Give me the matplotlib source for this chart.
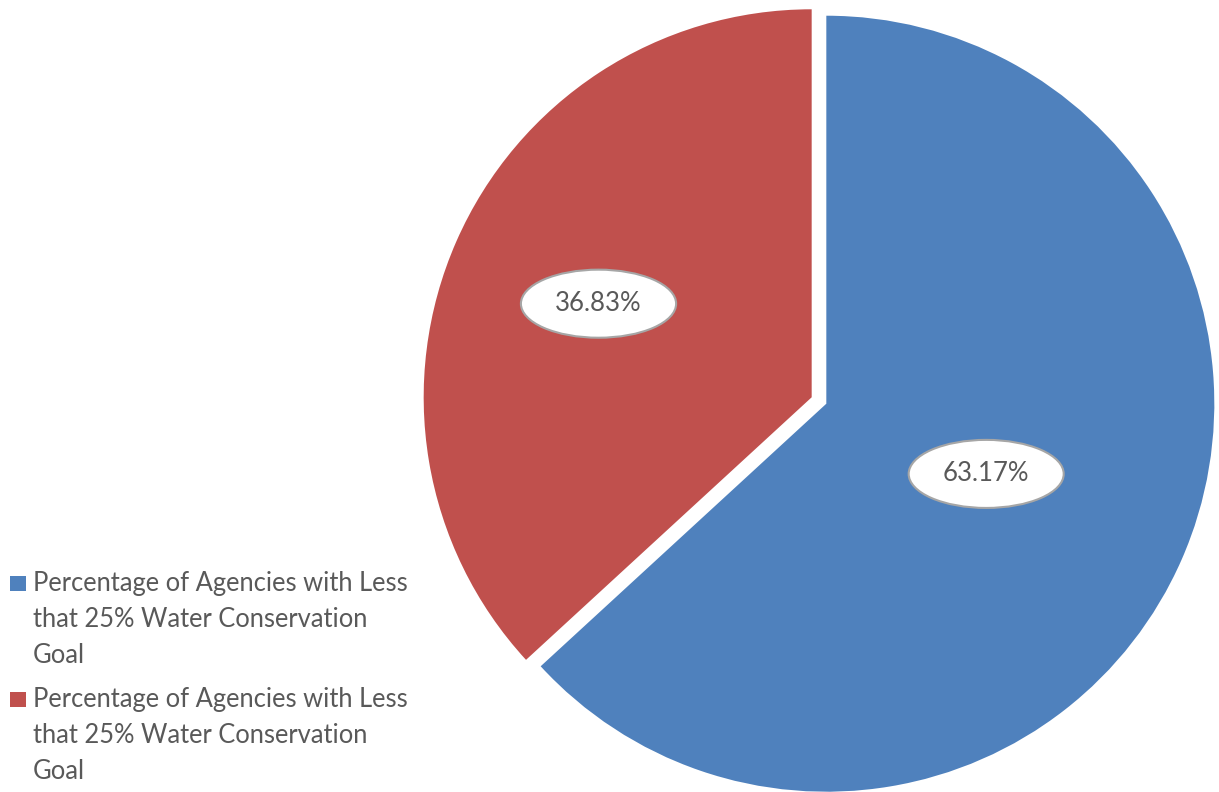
import numpy as np
import matplotlib
matplotlib.use("Agg")
import matplotlib.pyplot as plt
from matplotlib.patches import Rectangle

plt.rcParams["font.family"] = ["Lato", "DejaVu Sans"]

labels = ["Percentage of Agencies with Less\nthat 25% Water Conservation\nGoal",
          "Percentage of Agencies with Less\nthat 25% Water Conservation\nGoal"]
values = [63.17, 36.83]
colors = ["#4F81BD", "#C0504D"]
label_dist = [0.45, 0.60]

W, H = 1219, 792
fig = plt.figure(figsize=(W / 100, H / 100), dpi=100)
ax = fig.add_axes([0, 0, 1, 1])

cx, cy, R = 819, H - 400.5, 388
# explode is in data units (pixels here)
wedges, _ = ax.pie(values, colors=colors, startangle=90, counterclock=False,
                   explode=[8, 8], center=(cx, cy), radius=R,
                   wedgeprops=dict(linewidth=0))
ax.set_xlim(0, W)
ax.set_ylim(0, H)
ax.set_aspect("auto")
ax.axis("off")

text_col = "#595959"
for w, v, d in zip(wedges, values, label_dist):
    ang = np.deg2rad((w.theta1 + w.theta2) / 2)
    x0, y0 = w.center
    ax.text(x0 + d * R * np.cos(ang), y0 + d * R * np.sin(ang), f"{v:.2f}%",
            ha="center", va="center", fontsize=18.5, color=text_col,
            bbox=dict(boxstyle="ellipse,pad=0.45", fc="white", ec="#A6A6A6", lw=1.5))

# legend, drawn by hand so the square sits on the first line
top = H - 571
for i, (lab, col) in enumerate(zip(labels, colors)):
    y = top - i * 116
    fig.add_artist(Rectangle((10 / W, (y - 20) / H), 16 / W, 15 / H,
                             transform=fig.transFigure, color=col, lw=0))
    fig.text(33 / W, y / H, lab, ha="left", va="top", fontsize=18.4,
             color=text_col, linespacing=1.55)

fig.savefig("out.png", dpi=100)
